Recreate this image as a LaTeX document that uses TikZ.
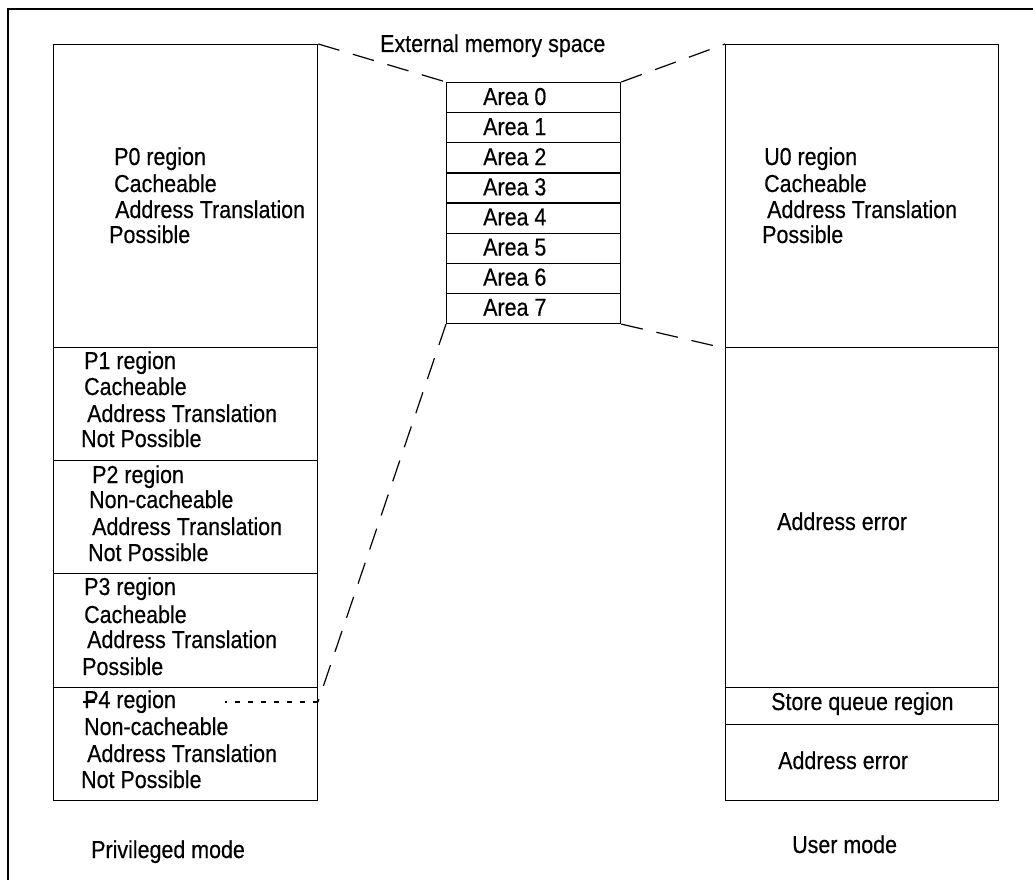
\documentclass[tikz,border=0pt]{standalone}
\usepackage{fontspec}
\setmainfont[FakeStretch=0.875,FakeBold=0.4]{Liberation Sans}
\begin{document}
\begin{tikzpicture}[x=1pt,y=-1pt,
  box/.style={draw, line width=1.3pt, rectangle, inner sep=0pt, anchor=north west},
  lbl/.style={anchor=base west, inner sep=0pt, font=\fontsize{24.5}{26}\selectfont},
  dashline/.style={line width=1.2pt, dash pattern=on 22pt off 14pt},
  dotline/.style={line width=1.2pt, dash pattern=on 5pt off 8pt}]
\useasboundingbox (0,0) rectangle (1033,880);
% frame
\draw[line width=1.3pt] (8,880) -- (8,9) -- (1033,9);
% left column
\node[box, minimum width=264pt, minimum height=303pt] (p0) at (53,44) {};
\node[box, minimum width=264pt, minimum height=113pt] (p1) at (53,347) {};
\node[box, minimum width=264pt, minimum height=113pt] (p2) at (53,460) {};
\node[box, minimum width=264pt, minimum height=114pt] (p3) at (53,573) {};
\node[box, minimum width=264pt, minimum height=113pt] (p4) at (53,687) {};
% right column
\node[box, minimum width=273pt, minimum height=303pt] (u0) at (725,44) {};
\node[box, minimum width=273pt, minimum height=340pt] (ae1) at (725,347) {};
\node[box, minimum width=273pt, minimum height=37pt] (sq) at (725,687) {};
\node[box, minimum width=273pt, minimum height=76pt] (ae2) at (725,724) {};
% areas
\foreach \i in {0,...,7}{
  \node[box, minimum width=174pt, minimum height=30.1pt] (a\i) at (446,{82+30.1*\i}) {};
  \node[lbl] (at\i) at (483,{105+30.1*\i}) {Area \i};
}
% texts
\node[lbl] (ext) at (380,52) {External memory space};
\node[lbl] (t01) at (114,165) {P0 region};
\node[lbl] (t02) at (114,192) {Cacheable};
\node[lbl] (t03) at (115,218) {Address Translation};
\node[lbl] (t04) at (109,243) {Possible};
\node[lbl] (t11) at (84,369) {P1 region};
\node[lbl] (t12) at (84,395) {Cacheable};
\node[lbl] (t13) at (87,422) {Address Translation};
\node[lbl] (t14) at (81,447) {Not Possible};
\node[lbl] (t21) at (92,483) {P2 region};
\node[lbl] (t22) at (89,508) {Non-cacheable};
\node[lbl] (t23) at (92,535) {Address Translation};
\node[lbl] (t24) at (88,561) {Not Possible};
\node[lbl] (t31) at (84,595) {P3 region};
\node[lbl] (t32) at (84,623) {Cacheable};
\node[lbl] (t33) at (87,648) {Address Translation};
\node[lbl] (t34) at (82,675) {Possible};
\node[lbl] (t41) at (84,708) {P4 region};
\node[lbl] (t42) at (84,735) {Non-cacheable};
\node[lbl] (t43) at (87,762) {Address Translation};
\node[lbl] (t44) at (81,788) {Not Possible};
\node[lbl] (u01) at (764,165) {U0 region};
\node[lbl] (u02) at (764,192) {Cacheable};
\node[lbl] (u03) at (767,218) {Address Translation};
\node[lbl] (u04) at (762,243) {Possible};
\node[lbl] (aet1) at (777,530) {Address error};
\node[lbl] (sqt) at (771,710) {Store queue region};
\node[lbl] (aet2) at (778,769) {Address error};
\node[lbl] (um) at (792,853) {User mode};
\node[lbl] (pm) at (91,858) {Privileged mode};
% connectors
\coordinate (p4c) at (318,702);
\coordinate (p4d) at (225,702);
\coordinate (p4s) at (83,702);
\coordinate (p4e) at (95,702);
\draw[dashline] (p0.north east) -- (a0.north west);
\draw[dashline] (a0.north east) -- (u0.north west);
\draw[dashline] (a7.south east) -- (u0.south west);
\draw[dashline] (a7.south west) -- (p4c);
\draw[dotline] (p4c) -- (p4d);
\draw[line width=1.2pt] (p4s) -- (p4e);
\end{tikzpicture}
\end{document}
